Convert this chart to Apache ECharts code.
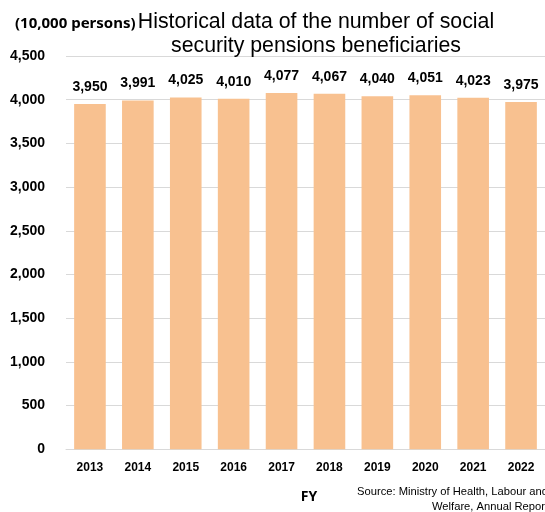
<!DOCTYPE html>
<html>
<head>
<meta charset="utf-8">
<script src="https://cdn.jsdelivr.net/npm/echarts@6/dist/echarts.min.js"></script>
<style>
  html, body { margin: 0; padding: 0; background: #fff; }
  #chart { width: 545px; height: 512px; }
</style>
</head>
<body>
<div id="chart"></div>
<script>
// Social security pension beneficiaries by fiscal year (unit: 10,000 persons)
const fiscalYears = ['2013', '2014', '2015', '2016', '2017', '2018', '2019', '2020', '2021', '2022'];
const beneficiaries = [3950, 3991, 4025, 4010, 4077, 4067, 4040, 4051, 4023, 3975];
const yTicks = { min: 0, max: 4500, interval: 500 };

const chart = echarts.init(document.getElementById('chart'), null, { renderer: 'canvas' });

const tickFont = { fontFamily: '"Liberation Sans", Arial, sans-serif', fontWeight: 'bold', color: '#000' };

chart.setOption({
  animation: false,
  backgroundColor: '#fff',
  title: {
    text: 'Historical data of the number of social\nsecurity pensions beneficiaries',
    left: 311,
    top: 5,
    textAlign: 'center',
    textStyle: {
      fontFamily: '"Liberation Sans", Arial, sans-serif',
      fontWeight: 'normal',
      fontSize: 21.3,
      lineHeight: 24,
      color: '#000'
    }
  },
  grid: { left: 66, right: -4, top: 56, bottom: 62.7 },
  xAxis: {
    type: 'category',
    data: fiscalYears,
    axisLine: { show: true, lineStyle: { color: '#d9d9d9', width: 1 } },
    axisTick: { show: false },
    axisLabel: Object.assign({ fontSize: 12, margin: 12 }, tickFont)
  },
  yAxis: {
    type: 'value',
    min: yTicks.min,
    max: yTicks.max,
    interval: yTicks.interval,
    axisLine: { show: false },
    axisTick: { show: false },
    splitLine: { lineStyle: { color: '#d9d9d9', width: 1 } },
    axisLabel: Object.assign({
      fontSize: 14,
      margin: 21,
      formatter: v => v.toLocaleString('en-US')
    }, tickFont)
  },
  series: [{
    type: 'bar',
    data: beneficiaries,
    barCategoryGap: '34%',
    itemStyle: { color: '#F8C190' },
    label: {
      show: true,
      position: 'top',
      distance: 10,
      fontSize: 14,
      fontFamily: '"Liberation Sans", Arial, sans-serif',
      fontWeight: 'bold',
      color: '#000',
      formatter: p => p.value.toLocaleString('en-US')
    }
  }],
  graphic: [
    {
      type: 'text',
      x: 15,
      y: 24,
      style: {
        text: '(10,000 persons)',
        font: 'bold 15px "Noto Sans", "Open Sans", sans-serif',
        fill: '#000',
        textAlign: 'left',
        textVerticalAlign: 'middle'
      }
    },
    {
      type: 'text',
      x: 309,
      y: 497,
      style: {
        text: 'FY',
        font: 'bold 14px "Noto Sans", "Open Sans", sans-serif',
        fill: '#000',
        textAlign: 'center',
        textVerticalAlign: 'middle'
      }
    },
    {
      type: 'text',
      x: 357,
      y: 492,
      style: {
        text: 'Source: Ministry of Health, Labour and',
        font: '11.2px "Liberation Sans", Arial, sans-serif',
        fill: '#000',
        textAlign: 'left',
        textVerticalAlign: 'middle'
      }
    },
    {
      type: 'text',
      x: 432,
      y: 507,
      style: {
        text: 'Welfare, Annual Report',
        font: '11.2px "Liberation Sans", Arial, sans-serif',
        fill: '#000',
        textAlign: 'left',
        textVerticalAlign: 'middle'
      }
    }
  ]
});
</script>
</body>
</html>
